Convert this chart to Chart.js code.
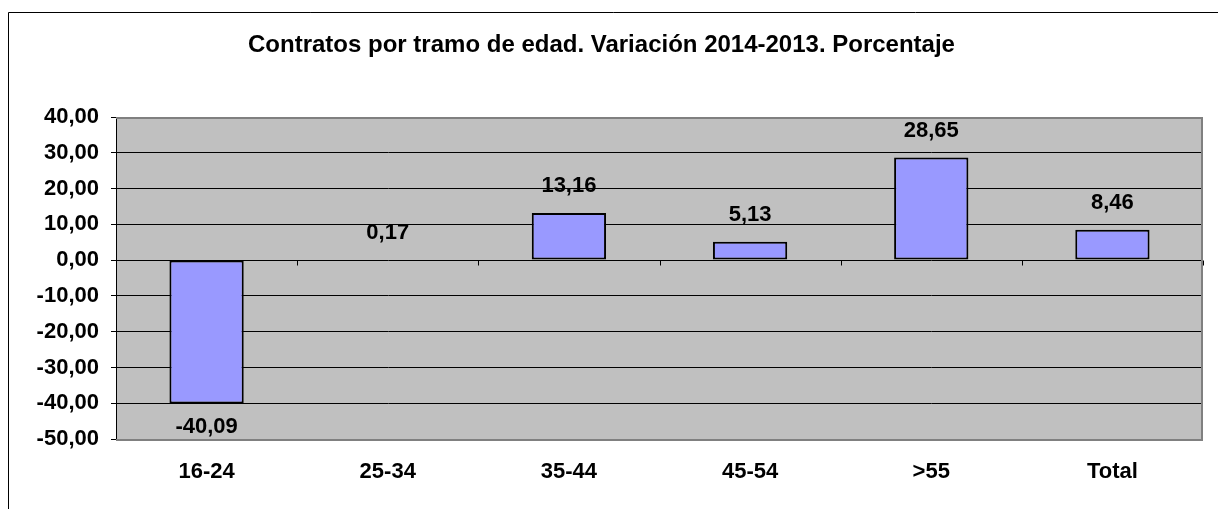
<!DOCTYPE html>
<html>
<head>
<meta charset="utf-8">
<script src="https://cdn.jsdelivr.net/npm/chart.js@4"></script>
<style>
  html, body { margin: 0; padding: 0; background: #fff; }
  #wrap { width: 1218px; height: 509px; }
</style>
</head>
<body>
<div id="wrap"><canvas id="chart" width="1218" height="509"></canvas></div>
<script>
// data
const categories = ['16-24', '25-34', '35-44', '45-54', '>55', 'Total'];
const values = [-40.09, 0.17, 13.16, 5.13, 28.65, 8.46];
const yTicks = [40, 30, 20, 10, 0, -10, -20, -30, -40, -50];
const chartTitle = 'Contratos por tramo de edad. Variación 2014-2013. Porcentaje';

const FONT = 'Arial, "Liberation Sans", sans-serif';
const fmt = v => Number(v).toFixed(2).replace('.', ',');

// background, frame, plot border, zero-axis ticks and value labels
const excelLook = {
  id: 'excelLook',
  beforeDraw(chart) {
    const { ctx, chartArea: a } = chart;
    ctx.save();
    ctx.fillStyle = '#fff';
    ctx.fillRect(0, 0, chart.width, chart.height);
    ctx.strokeStyle = '#000';
    ctx.lineWidth = 1;
    ctx.beginPath();
    ctx.moveTo(8.5, chart.height);
    ctx.lineTo(8.5, 12.5);
    ctx.lineTo(chart.width, 12.5);
    ctx.stroke();
    ctx.fillStyle = '#c0c0c0';
    ctx.fillRect(a.left, a.top, a.right - a.left, a.bottom - a.top);
    ctx.restore();
  },
  afterDatasetsDraw(chart) {
    const { ctx, chartArea: a, scales } = chart;
    const y0 = Math.round(scales.y.getPixelForValue(0)) + 0.5;
    ctx.save();
    // category boundary ticks on the zero line
    ctx.strokeStyle = '#000';
    ctx.lineWidth = 1;
    ctx.beginPath();
    for (let i = 1; i <= categories.length; i++) {
      const x = i < categories.length
        ? (scales.x.getPixelForTick(i - 1) + scales.x.getPixelForTick(i)) / 2
        : a.right;
      const px = Math.round(x) + 0.5;
      ctx.moveTo(px, y0);
      ctx.lineTo(px, y0 + 5);
    }
    ctx.stroke();
    // grey plot border (top, right, bottom)
    ctx.strokeStyle = '#808080';
    ctx.lineWidth = 2;
    ctx.beginPath();
    ctx.moveTo(a.left, a.top + 1);
    ctx.lineTo(a.right - 1, a.top + 1);
    ctx.lineTo(a.right - 1, a.bottom + 1);
    ctx.lineTo(a.left, a.bottom + 1);
    ctx.stroke();
    // value labels
    ctx.fillStyle = '#000';
    ctx.font = 'bold 22px ' + FONT;
    ctx.textAlign = 'center';
    ctx.textBaseline = 'middle';
    chart.getDatasetMeta(0).data.forEach((el, i) => {
      const v = values[i];
      const y = v >= 0 ? el.y - 27 : el.y + 23;
      ctx.fillText(fmt(v), el.x, y);
    });
    ctx.restore();
  }
};

const ctx = document.getElementById('chart').getContext('2d');
new Chart(ctx, {
  type: 'bar',
  data: {
    labels: categories,
    datasets: [{
      data: values,
      backgroundColor: '#9999ff',
      borderColor: '#000',
      borderWidth: 2,
      borderSkipped: false,
      barPercentage: 0.41,
      categoryPercentage: 1
    }]
  },
  options: {
    responsive: false,
    animation: false,
    layout: { padding: { left: 0, right: 15, top: 0, bottom: 0 } },
    plugins: {
      legend: { display: false },
      tooltip: { enabled: false },
      title: {
        display: true,
        text: chartTitle,
        color: '#000',
        font: { family: FONT, size: 24, weight: 'bold' },
        padding: { top: 30.6, bottom: 57.6 }
      }
    },
    scales: {
      x: {
        grid: { display: false, drawTicks: false },
        border: { display: false },
        ticks: { color: '#000', font: { family: FONT, size: 22, weight: 'bold' }, padding: 20 },
        afterFit: s => { s.height = 70; }
      },
      y: {
        min: -50,
        max: 40,
        afterBuildTicks: s => { s.ticks = yTicks.map(v => ({ value: v })); },
        ticks: { color: '#000', font: { family: FONT, size: 22, weight: 'bold' }, padding: 12, callback: v => fmt(v) },
        grid: { color: '#000', lineWidth: 1, tickLength: 5, tickColor: '#000' },
        border: { color: '#000', width: 1 },
        afterFit: s => { s.width = 116; }
      }
    }
  },
  plugins: [excelLook]
});
</script>
</body>
</html>
